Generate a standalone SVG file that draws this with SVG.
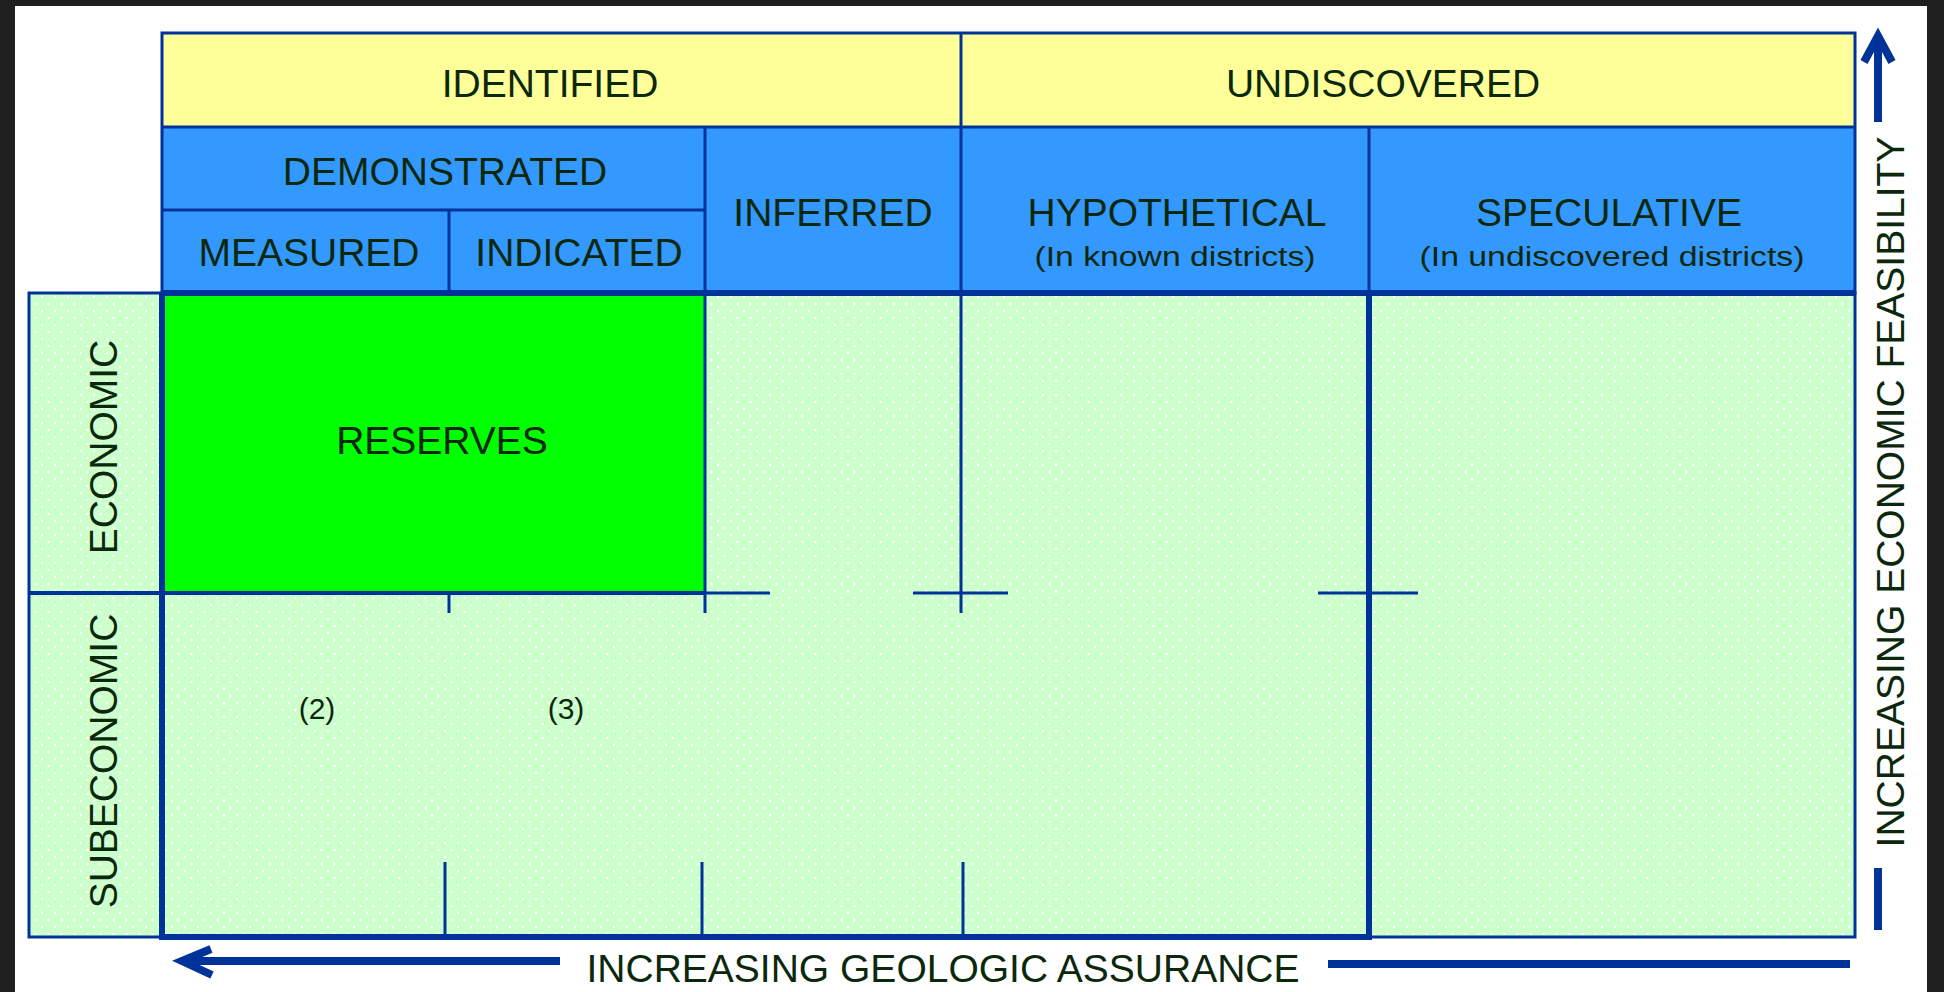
<svg xmlns="http://www.w3.org/2000/svg" width="1944" height="992" viewBox="0 0 1944 992">
  <defs>
    <pattern id="dots" x="0" y="0" width="13" height="14" patternUnits="userSpaceOnUse">
      <rect width="13" height="14" fill="#ccffcc"/>
      <circle cx="3" cy="3" r="1.2" fill="#ffffff"/>
      <circle cx="9.5" cy="10" r="1.2" fill="#ffffff"/>
    </pattern>
    <style>
      .lbl { font-family: "Liberation Sans", Arial, sans-serif; font-size: 39px; fill: #0c280c; text-anchor: middle; }
      .sub { font-family: "Liberation Sans", Arial, sans-serif; font-size: 27px; fill: #0c280c; text-anchor: middle; }
      .thin { stroke: #003399; stroke-width: 3; fill: none; }
      .mid { stroke: #003399; stroke-width: 4; fill: none; }
      .thick { stroke: #003399; stroke-width: 6; fill: none; }
      .axis { stroke: #003399; stroke-width: 8; fill: none; }
    </style>
  </defs>

  <rect x="0" y="0" width="1944" height="992" fill="#1f1f1f"/>
  <rect x="15" y="6" width="1912" height="986" fill="#ffffff"/>

  <g id="header-identified">
    <rect x="162" y="33" width="799" height="94" fill="#ffff99"/>
    <text class="lbl" x="550" y="97">IDENTIFIED</text>
  </g>
  <g id="header-undiscovered">
    <rect x="961" y="33" width="894" height="94" fill="#ffff99"/>
    <text class="lbl" x="1383" y="97">UNDISCOVERED</text>
  </g>
  <g id="header-demonstrated">
    <rect x="162" y="127" width="543" height="83" fill="#3399ff"/>
    <text class="lbl" x="445" y="185">DEMONSTRATED</text>
  </g>
  <g id="header-measured">
    <rect x="162" y="210" width="287" height="83" fill="#3399ff"/>
    <text class="lbl" x="309" y="266">MEASURED</text>
  </g>
  <g id="header-indicated">
    <rect x="449" y="210" width="256" height="83" fill="#3399ff"/>
    <text class="lbl" x="579" y="266">INDICATED</text>
  </g>
  <g id="header-inferred">
    <rect x="705" y="127" width="256" height="166" fill="#3399ff"/>
    <text class="lbl" x="833" y="226">INFERRED</text>
  </g>
  <g id="header-hypothetical">
    <rect x="961" y="127" width="408" height="166" fill="#3399ff"/>
    <text class="lbl" x="1177" y="226">HYPOTHETICAL</text>
    <text class="sub" x="1175" y="266" textLength="281" lengthAdjust="spacingAndGlyphs">(In known districts)</text>
  </g>
  <g id="header-speculative">
    <rect x="1369" y="127" width="486" height="166" fill="#3399ff"/>
    <text class="lbl" x="1609" y="226">SPECULATIVE</text>
    <text class="sub" x="1612" y="266" textLength="385" lengthAdjust="spacingAndGlyphs">(In undiscovered districts)</text>
  </g>

  <g id="body">
    <rect x="162" y="293" width="1693" height="644" fill="url(#dots)"/>
  </g>
  <g id="row-economic">
    <rect x="29" y="293" width="133" height="300" fill="url(#dots)"/>
    <text class="lbl" transform="translate(117,447) rotate(-90)">ECONOMIC</text>
  </g>
  <g id="row-subeconomic">
    <rect x="29" y="593" width="133" height="344" fill="url(#dots)"/>
    <text class="lbl" transform="translate(117,761) rotate(-90)">SUBECONOMIC</text>
  </g>
  <g id="reserves">
    <rect x="162" y="293" width="543" height="300" fill="#00ff00"/>
    <text class="lbl" x="442" y="454">RESERVES</text>
  </g>
  <g id="label-2">
    <text class="sub" x="317" y="719" style="font-size:30px">(2)</text>
  </g>
  <g id="label-3">
    <text class="sub" x="566" y="719" style="font-size:30px">(3)</text>
  </g>

  <g id="connectors">
    <rect class="thin" x="162" y="33" width="1693" height="260"/>
    <line class="thin" x1="162" y1="127" x2="1855" y2="127"/>
    <line class="thin" x1="162" y1="210" x2="705" y2="210"/>
    <line class="thin" x1="449" y1="210" x2="449" y2="293"/>
    <line class="thin" x1="705" y1="127" x2="705" y2="293"/>
    <line class="thin" x1="961" y1="33" x2="961" y2="293"/>
    <line class="thin" x1="1369" y1="127" x2="1369" y2="293"/>
    <rect class="thin" x="29" y="293" width="1826" height="644"/>
    <line class="thick" x1="162" y1="293" x2="1855" y2="293"/>
    <line class="thick" x1="162" y1="293" x2="162" y2="937"/>
    <line class="thick" x1="159" y1="937" x2="1372" y2="937"/>
    <line class="thick" x1="1369" y1="293" x2="1369" y2="937"/>
    <line class="mid" x1="29" y1="593" x2="705" y2="593"/>
    <line class="thin" x1="705" y1="593" x2="770" y2="593"/>
    <line class="thin" x1="449" y1="593" x2="449" y2="613"/>
    <line class="thin" x1="705" y1="293" x2="705" y2="613"/>
    <line class="thin" x1="961" y1="293" x2="961" y2="613"/>
    <line class="thin" x1="913" y1="593" x2="1008" y2="593"/>
    <line class="thin" x1="1318" y1="593" x2="1418" y2="593"/>
    <line class="thin" x1="445" y1="862" x2="445" y2="937"/>
    <line class="thin" x1="702" y1="862" x2="702" y2="937"/>
    <line class="thin" x1="963" y1="862" x2="963" y2="937"/>
    <line class="axis" x1="184" y1="961" x2="560" y2="961"/>
    <polyline class="axis" points="211,949 182,961 212,975" stroke-width="7" stroke-linejoin="miter"/>
    <line class="axis" x1="1328" y1="964" x2="1850" y2="964"/>
    <line class="axis" x1="1878" y1="38" x2="1878" y2="122"/>
    <polyline class="axis" points="1864,62 1878,36 1892,62" stroke-width="7" stroke-linejoin="miter"/>
    <line class="axis" x1="1878" y1="868" x2="1878" y2="930"/>
  </g>

  <g id="axis-labels">
    <text class="lbl" x="943" y="982">INCREASING GEOLOGIC ASSURANCE</text>
    <text class="lbl" transform="translate(1904,492) rotate(-90)">INCREASING ECONOMIC FEASIBILITY</text>
  </g>
</svg>
